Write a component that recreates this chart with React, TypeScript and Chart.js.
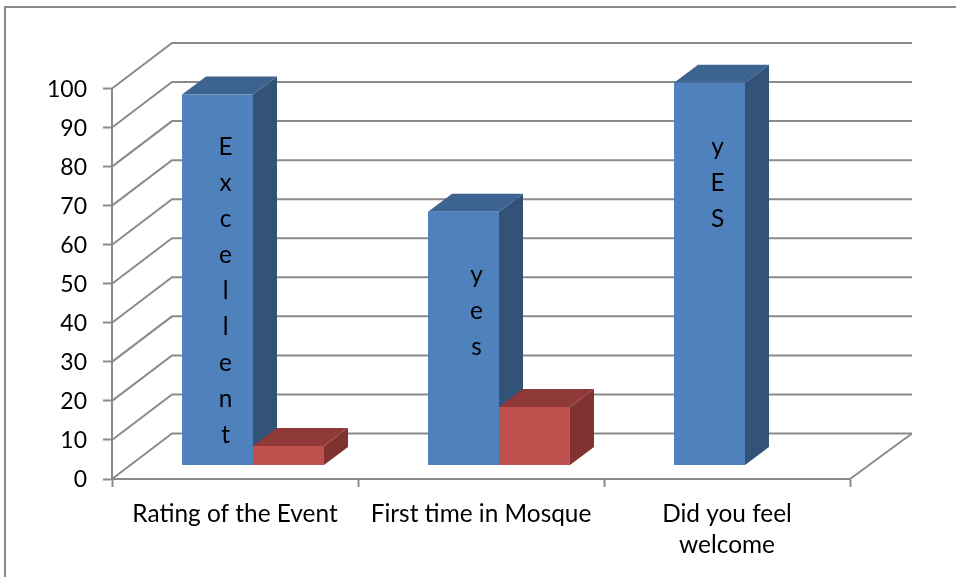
import React, { useEffect, useRef } from "react";
import { Chart, registerables } from "chart.js";

Chart.register(...registerables);

const categories: (string | string[])[] = ["Rating of the Event", "First time in Mosque", ["Did you feel", "welcome"]];
const blueValues = [95, 65, 98];
const redValues = [5, 15, 0];
const blueNotes = ["Excellent", "yes", "yES"];
const yTicks = [0, 10, 20, 30, 40, 50, 60, 70, 80, 90, 100];

const FONT = "Lato, 'Open Sans', sans-serif";
const GREY = "#8a8a8a";
const WALL = { dx: 60, dy: -45.5 };
const BAR_SHIFT = { dx: 18, dy: -13.5 };
const BAR_DEPTH = { dx: 24, dy: -18 };
const FACE_COLORS = [
  { side: "#325278", top: "#3d6390" },
  { side: "#7f3230", top: "#8f3a38" },
];
const NOTE_STYLE = [
  { x: 8, y: 53 },
  { x: 13, y: 63 },
  { x: 8, y: 64 },
];
const NOTE_SPACING = 36;

function poly(ctx: CanvasRenderingContext2D, pts: number[][], fill: string) {
  ctx.beginPath();
  pts.forEach((p, i) => (i ? ctx.lineTo(p[0], p[1]) : ctx.moveTo(p[0], p[1])));
  ctx.closePath();
  ctx.fillStyle = fill;
  ctx.fill();
}

const plugin3d = {
  id: "plugin3d",
  beforeDraw(chart: any) {
    const { ctx } = chart;
    ctx.save();
    ctx.strokeStyle = GREY;
    ctx.lineWidth = 2;
    ctx.beginPath();
    ctx.moveTo(5, 577);
    ctx.lineTo(5, 7);
    ctx.lineTo(956, 7);
    ctx.stroke();
    ctx.restore();
  },
  beforeDatasetsDraw(chart: any) {
    const { ctx, chartArea, scales } = chart;
    ctx.save();
    ctx.strokeStyle = GREY;
    ctx.lineWidth = 2;
    yTicks.forEach((v) => {
      const y = scales.y.getPixelForValue(v);
      ctx.beginPath();
      ctx.moveTo(chartArea.left, y);
      ctx.lineTo(chartArea.left + WALL.dx, y + WALL.dy);
      ctx.lineTo(chartArea.right + WALL.dx + 2, y + WALL.dy);
      ctx.stroke();
    });
    ctx.beginPath();
    ctx.moveTo(chartArea.right, chartArea.bottom);
    ctx.lineTo(chartArea.right + WALL.dx + 2, chartArea.bottom + WALL.dy);
    ctx.stroke();
    ctx.restore();

    ctx.save();
    ctx.translate(BAR_SHIFT.dx, BAR_SHIFT.dy);
    chart.data.datasets.forEach((ds: any, di: number) => {
      const colors = FACE_COLORS[di];
      chart.getDatasetMeta(di).data.forEach((bar: any, i: number) => {
        if (!ds.data[i]) return;
        const { x, y, base, width } = bar.getProps(["x", "y", "base", "width"]);
        const l = x - width / 2;
        const r = x + width / 2;
        const { dx, dy } = BAR_DEPTH;
        poly(ctx, [[r, y], [r + dx, y + dy], [r + dx, base + dy], [r, base]], colors.side);
        poly(ctx, [[l, y], [l + dx, y + dy], [r + dx, y + dy], [r, y]], colors.top);
      });
    });
  },
  afterDatasetsDraw(chart: any) {
    const { ctx } = chart;
    ctx.restore();
    ctx.save();
    ctx.fillStyle = "#000";
    ctx.font = `24.4px ${FONT}`;
    ctx.textAlign = "center";
    ctx.textBaseline = "middle";
    chart.getDatasetMeta(0).data.forEach((bar: any, i: number) => {
      const { x, y } = bar.getProps(["x", "y"]);
      Array.from(blueNotes[i]).forEach((ch, k) => {
        ctx.fillText(
          ch,
          x + BAR_SHIFT.dx + NOTE_STYLE[i].x,
          y + BAR_SHIFT.dy + NOTE_STYLE[i].y + k * NOTE_SPACING
        );
      });
    });
    ctx.restore();
  },
};

export default function App() {
  const ref = useRef<HTMLCanvasElement>(null);
  useEffect(() => {
    const chart = new Chart(ref.current!, {
      type: "bar",
      data: {
        labels: categories as any,
        datasets: [
          { label: "Series 1", data: blueValues, backgroundColor: "#4f81bd", clip: false as any },
          { label: "Series 2", data: redValues, backgroundColor: "#c0504d", clip: false as any },
        ],
      },
      plugins: [plugin3d as any],
      options: {
        responsive: false,
        animation: false,
        layout: { padding: { left: 0, right: 106, top: 88.5, bottom: 0 } },
        plugins: { legend: { display: false }, tooltip: { enabled: false }, title: { display: false } },
        datasets: { bar: { barPercentage: 1, categoryPercentage: 0.577 } },
        scales: {
          x: {
            afterFit: (s: any) => { s.height = 98; },
            grid: { drawOnChartArea: false, drawTicks: true, tickLength: 8, tickColor: GREY, tickWidth: 2, offset: true },
            border: { color: GREY, width: 2 },
            ticks: {
              color: "#000",
              maxRotation: 0,
              autoSkip: false,
              padding: 12,
              font: { family: FONT, size: 24.4, lineHeight: 1.27 },
            },
          },
          y: {
            min: 0,
            max: 100,
            afterFit: (s: any) => { s.width = 112; },
            afterBuildTicks: (s: any) => { s.ticks = yTicks.map((value) => ({ value })); },
            grid: { drawOnChartArea: false, drawTicks: true, tickLength: 9, tickColor: GREY, tickWidth: 2 },
            border: { color: GREY, width: 2 },
            ticks: {
              color: "#000",
              padding: 16,
              labelOffset: 1,
              font: { family: FONT, size: 23 },
            },
          },
        },
      },
    });
    return () => chart.destroy();
  }, []);
  return (
    <div style={{ position: "absolute", left: 0, top: 0, width: 956, height: 577, background: "#fff" }}>
      <canvas ref={ref} width={956} height={577} style={{ display: "block" }} />
    </div>
  );
}
